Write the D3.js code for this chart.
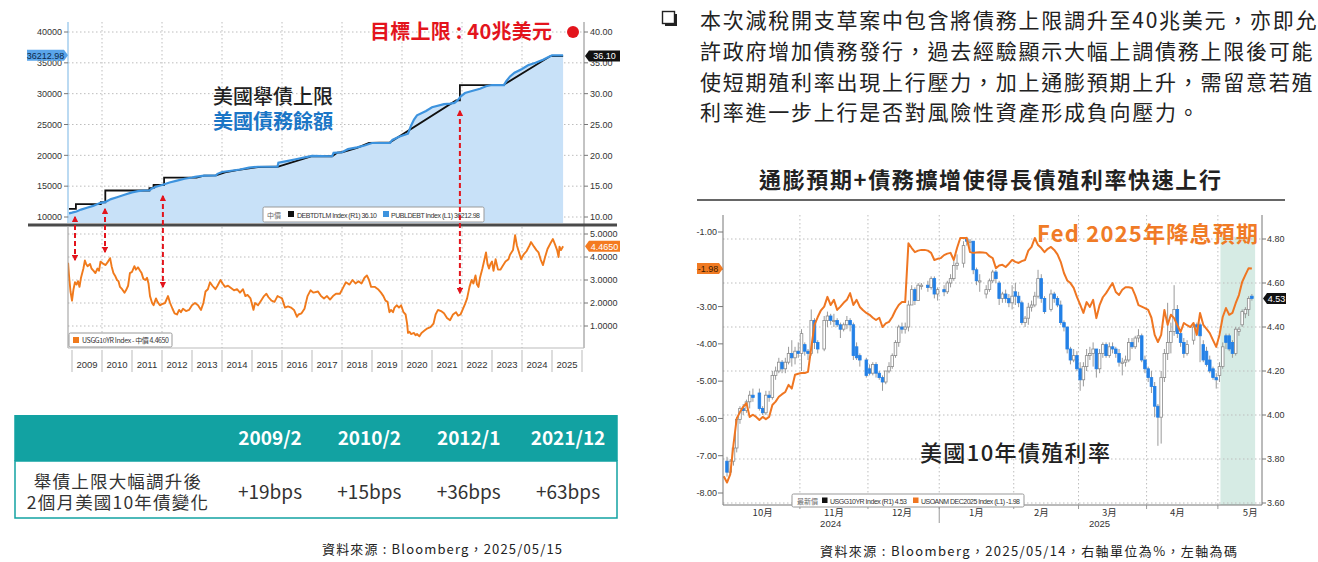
<!DOCTYPE html>
<html><head><meta charset="utf-8">
<script src="https://cdn.jsdelivr.net/npm/d3@7"></script>
<style>
html,body{margin:0;padding:0;background:#fff;}
svg{display:block;font-family:"Noto Sans CJK TC","Noto Sans",sans-serif;}
.bb{font-family:"Liberation Sans",Arial,sans-serif;}
</style></head><body>
<svg id="c" width="1318" height="562"></svg>
<script>
// ================= DATA =================
// ---- left chart: US debt ceiling / public debt / 10Y yield ----
const yearLabels = [2009,2010,2011,2012,2013,2014,2015,2016,2017,2018,2019,2020,2021,2022,2023,2024,2025];
const gridYears = [2010,2012,2014,2016,2018,2020,2022,2024];
const debtTicks = [10000,15000,20000,25000,30000,35000,40000];      // left axis (USD bn)
const ceilTicks = [10,15,20,25,30,35,40];                            // right axis (USD tn)
const yieldTicks = [1,2,3,4,5];                                      // lower panel (%)
const lastDebt = 36212.98, lastCeil = 36.10, lastYield = 4.4650, targetCeil = 40;

// debt ceiling, [year, USD tn]
const debtCeiling = [[2008.9,11.315],[2009.13,11.315],[2009.13,12.104],[2009.96,12.104],[2009.96,12.394],[2010.11,12.394],[2010.11,14.294],[2011.58,14.294],[2011.58,14.694],[2011.72,14.694],[2011.72,15.194],[2012.07,15.194],[2012.07,16.394],[2013.15,16.394],[2013.4,16.7],[2013.8,16.75],[2014.1,17.25],[2014.5,17.6],[2015.2,18.11],[2015.85,18.15],[2017.0,19.85],[2017.67,19.85],[2017.85,20.45],[2018.0,20.5],[2018.5,21.2],[2018.9,22.0],[2019.6,22.1],[2021.8,28.9],[2021.93,28.9],[2021.93,31.381],[2023.37,31.381],[2024.95,36.1],[2025.37,36.1]];
// public debt outstanding, [year, USD bn]
const publicDebt = [[2008.9,10600],[2009.0,10700],[2009.15,10900],[2009.3,11200],[2009.5,11500],[2009.7,11800],[2009.95,12300],[2010.1,12400],[2010.3,12900],[2010.5,13200],[2010.75,13600],[2011.0,14000],[2011.2,14200],[2011.4,14300],[2011.58,14300],[2011.65,14600],[2011.8,14900],[2012.0,15200],[2012.25,15600],[2012.5,15900],[2012.75,16200],[2013.0,16400],[2013.1,16500],[2013.4,16700],[2013.8,16750],[2013.85,17000],[2014.0,17300],[2014.3,17500],[2014.6,17700],[2014.9,18000],[2015.2,18150],[2015.85,18150],[2015.88,18800],[2016.2,19100],[2016.5,19400],[2016.8,19700],[2017.0,19900],[2017.67,19850],[2017.72,20400],[2018.0,20500],[2018.2,21000],[2018.5,21300],[2018.75,21600],[2019.0,22000],[2019.6,22000],[2019.68,22500],[2019.9,23000],[2020.2,23500],[2020.3,24800],[2020.4,25800],[2020.5,26500],[2020.8,27200],[2021.0,27800],[2021.4,28300],[2021.6,28400],[2021.75,28500],[2021.85,28900],[2021.97,29600],[2022.1,30100],[2022.3,30400],[2022.6,30800],[2022.8,31200],[2023.0,31400],[2023.4,31400],[2023.47,32000],[2023.6,32800],[2023.75,33400],[2024.0,34000],[2024.2,34600],[2024.45,35000],[2024.7,35500],[2024.9,36000],[2025.0,36200],[2025.37,36213]];
// US 10Y yield, [year, %]
const ust10yHist = [[2008.87,3.75],[2008.9,3.2],[2008.95,2.5],[2009.0,2.1],[2009.05,2.6],[2009.1,2.9],[2009.15,2.8],[2009.2,2.95],[2009.25,2.7],[2009.3,3.1],[2009.38,3.5],[2009.43,3.85],[2009.47,3.7],[2009.52,3.6],[2009.6,3.7],[2009.65,3.5],[2009.72,3.4],[2009.78,3.3],[2009.85,3.5],[2009.9,3.4],[2009.95,3.8],[2010.0,3.75],[2010.05,3.7],[2010.12,3.65],[2010.2,3.8],[2010.27,3.95],[2010.32,3.6],[2010.38,3.3],[2010.45,3.15],[2010.5,3.0],[2010.55,2.95],[2010.6,2.7],[2010.67,2.6],[2010.75,2.45],[2010.8,2.55],[2010.87,2.75],[2010.93,3.3],[2011.0,3.35],[2011.08,3.6],[2011.13,3.45],[2011.2,3.55],[2011.27,3.4],[2011.32,3.3],[2011.38,3.05],[2011.45,3.0],[2011.5,3.1],[2011.55,2.85],[2011.6,2.3],[2011.67,2.0],[2011.72,1.9],[2011.8,2.2],[2011.85,2.05],[2011.93,1.9],[2012.0,1.95],[2012.1,2.0],[2012.2,2.3],[2012.27,2.0],[2012.35,1.75],[2012.42,1.55],[2012.5,1.5],[2012.57,1.7],[2012.63,1.6],[2012.7,1.75],[2012.8,1.65],[2012.9,1.7],[2013.0,1.9],[2013.1,2.0],[2013.2,1.9],[2013.3,1.7],[2013.38,2.0],[2013.45,2.5],[2013.53,2.6],[2013.6,2.9],[2013.68,2.75],[2013.78,2.6],[2013.85,2.75],[2013.95,3.0],[2014.02,2.85],[2014.1,2.7],[2014.2,2.75],[2014.3,2.65],[2014.4,2.55],[2014.5,2.6],[2014.6,2.45],[2014.7,2.6],[2014.78,2.3],[2014.85,2.35],[2014.95,2.2],[2015.05,1.7],[2015.1,2.0],[2015.2,1.9],[2015.3,2.1],[2015.4,2.3],[2015.48,2.4],[2015.55,2.25],[2015.65,2.1],[2015.75,2.05],[2015.85,2.3],[2015.93,2.25],[2016.0,2.2],[2016.1,1.8],[2016.2,1.85],[2016.3,1.8],[2016.4,1.7],[2016.5,1.4],[2016.55,1.5],[2016.65,1.55],[2016.75,1.75],[2016.85,2.3],[2016.95,2.55],[2017.05,2.45],[2017.2,2.5],[2017.3,2.3],[2017.4,2.2],[2017.5,2.3],[2017.6,2.15],[2017.7,2.3],[2017.8,2.4],[2017.93,2.4],[2018.05,2.7],[2018.13,2.9],[2018.25,2.8],[2018.35,3.0],[2018.45,2.85],[2018.55,2.95],[2018.65,2.85],[2018.75,3.1],[2018.83,3.2],[2018.9,3.0],[2018.97,2.7],[2019.1,2.7],[2019.2,2.6],[2019.3,2.45],[2019.38,2.3],[2019.45,2.1],[2019.52,2.05],[2019.58,1.6],[2019.63,1.7],[2019.7,1.6],[2019.75,1.8],[2019.83,1.9],[2019.9,1.8],[2019.97,1.9],[2020.05,1.6],[2020.12,1.5],[2020.17,1.1],[2020.2,0.7],[2020.25,0.75],[2020.3,0.65],[2020.4,0.7],[2020.45,0.6],[2020.5,0.65],[2020.58,0.55],[2020.65,0.7],[2020.75,0.8],[2020.85,0.9],[2020.95,0.95],[2021.05,1.1],[2021.12,1.5],[2021.2,1.7],[2021.3,1.65],[2021.4,1.55],[2021.5,1.35],[2021.6,1.25],[2021.7,1.5],[2021.8,1.6],[2021.87,1.45],[2021.95,1.5],[2022.0,1.65],[2022.05,1.8],[2022.1,1.95],[2022.17,2.2],[2022.25,2.7],[2022.32,3.0],[2022.38,2.85],[2022.45,3.2],[2022.5,2.8],[2022.55,2.7],[2022.6,3.1],[2022.68,3.5],[2022.75,3.9],[2022.8,4.2],[2022.85,3.7],[2022.9,3.5],[2022.95,3.7],[2023.0,3.8],[2023.05,3.4],[2023.12,3.9],[2023.2,3.45],[2023.28,3.45],[2023.35,3.6],[2023.45,3.8],[2023.55,3.9],[2023.6,4.1],[2023.7,4.3],[2023.77,4.95],[2023.83,4.5],[2023.9,4.2],[2023.97,3.9],[2024.05,4.1],[2024.15,4.25],[2024.25,4.5],[2024.3,4.65],[2024.4,4.45],[2024.48,4.3],[2024.55,4.2],[2024.62,3.9],[2024.7,3.65],[2024.77,4.0],[2024.85,4.35],[2024.95,4.6],[2025.03,4.78],[2025.1,4.55],[2025.17,4.3],[2025.22,4.0],[2025.25,4.45],[2025.3,4.3],[2025.37,4.47]];
// red arrows: year, top tip (USD tn), bottom tip (%)
const arrowYears = [2009.1, 2010.1, 2012.03, 2021.93];
const arrowTop = [10.0, 11.3, 13.4, 27.2];
const arrowBot = [3.87, 4.22, 2.7, 2.43];

// ---- table ----
const tableHeads = ["2009/2","2010/2","2012/1","2021/12"];
const tableVals = ["+19bps","+15bps","+36bps","+63bps"];
const tableRowLabel = ["舉債上限大幅調升後","2個月美國10年債變化"];

// ---- right text ----
const paraLines = ["本次減稅開支草案中包含將債務上限調升至40兆美元，亦即允","許政府增加債務發行，過去經驗顯示大幅上調債務上限後可能","使短期殖利率出現上行壓力，加上通膨預期上升，需留意若殖","利率進一步上行是否對風險性資產形成負向壓力。"];

// ---- right chart (x = weekday index from 2024-10-01) ----
const monthLabels = ["10月","11月","12月","1月","2月","3月","4月","5月"];
const monthLabelIdx = [11,33,54,77,97,118,139,161.5];
const monthStartIdx = [22.5,43.5,65.5,88.5,108.5,129.5,151.5];
const yearTickLabels = ["2024","2025"];
const yearTickIdx = [32,115];
const yearBoundIdx = 65.5;
const cutTicks = [-1,-2,-3,-4,-5,-6,-7,-8];
const ustTicks = [3.6,3.8,4.0,4.2,4.4,4.6,4.8];
const shadeIdx = [152.3,163];
const lastUst = 4.53, lastCuts = -1.98;
// US 10Y daily candles [idx, open, high, low, close]
const ust10y = [
[0,3.79,3.81,3.72,3.74],[1,3.74,3.80,3.73,3.79],[2,3.79,3.86,3.77,3.85],[3,3.85,3.99,3.83,3.98],[4,3.98,4.04,3.96,4.03],[5,4.03,4.05,4.00,4.02],[6,4.02,4.07,4.01,4.06],[7,4.06,4.11,4.03,4.09],[8,4.09,4.12,4.06,4.08],
[10,4.10,4.12,4.02,4.03],[11,4.03,4.04,4.00,4.01],[12,4.01,4.11,4.00,4.09],[13,4.09,4.11,4.06,4.08],[14,4.08,4.20,4.07,4.18],[15,4.18,4.22,4.16,4.20],[16,4.20,4.26,4.19,4.24],[17,4.24,4.25,4.19,4.21],[18,4.21,4.26,4.19,4.24],[19,4.24,4.31,4.23,4.28],[20,4.28,4.34,4.22,4.26],[21,4.26,4.31,4.23,4.29],[22,4.29,4.33,4.26,4.28],
[23,4.28,4.39,4.20,4.37],[24,4.32,4.33,4.27,4.29],[25,4.29,4.30,4.25,4.28],[26,4.28,4.48,4.27,4.43],[27,4.43,4.44,4.30,4.33],[28,4.33,4.34,4.28,4.30],[30,4.30,4.45,4.29,4.43],[31,4.43,4.47,4.40,4.45],[32,4.45,4.46,4.41,4.43],[33,4.43,4.46,4.40,4.43],[34,4.43,4.44,4.40,4.41],[35,4.41,4.42,4.35,4.39],[36,4.39,4.42,4.38,4.41],[37,4.41,4.45,4.39,4.43],[38,4.43,4.44,4.38,4.41],[39,4.41,4.42,4.25,4.27],[40,4.31,4.33,4.25,4.26],[41,4.27,4.28,4.22,4.25],[43,4.25,4.26,4.17,4.18],
[44,4.21,4.23,4.18,4.19],[45,4.19,4.24,4.18,4.23],[46,4.23,4.24,4.17,4.19],[47,4.19,4.20,4.16,4.17],[48,4.17,4.18,4.11,4.15],[49,4.15,4.20,4.14,4.20],[50,4.20,4.24,4.19,4.22],[51,4.22,4.28,4.21,4.27],[52,4.27,4.34,4.26,4.33],[53,4.33,4.41,4.31,4.40],[54,4.40,4.42,4.37,4.39],[55,4.39,4.42,4.37,4.40],[56,4.40,4.52,4.38,4.50],[57,4.50,4.59,4.50,4.57],[58,4.57,4.58,4.50,4.52],[59,4.52,4.60,4.52,4.59],[60,4.59,4.60,4.57,4.59],[62,4.59,4.61,4.56,4.58],[63,4.58,4.63,4.57,4.62],[64,4.62,4.63,4.53,4.55],[65,4.55,4.58,4.52,4.57],
[67,4.57,4.59,4.54,4.56],[68,4.56,4.61,4.55,4.60],[69,4.60,4.64,4.58,4.62],[70,4.62,4.70,4.61,4.68],[71,4.68,4.73,4.66,4.69],[73,4.69,4.79,4.67,4.77],[74,4.80,4.81,4.77,4.79],[75,4.79,4.80,4.75,4.79],[76,4.79,4.79,4.64,4.66],[77,4.66,4.67,4.59,4.61],[78,4.61,4.64,4.56,4.61],[80,4.55,4.59,4.53,4.57],[81,4.57,4.62,4.56,4.61],[82,4.61,4.66,4.60,4.65],[83,4.65,4.66,4.60,4.62],[84,4.60,4.61,4.50,4.53],[85,4.53,4.56,4.51,4.55],[86,4.55,4.57,4.51,4.53],[87,4.53,4.55,4.49,4.51],[88,4.51,4.59,4.48,4.54],
[89,4.56,4.60,4.50,4.54],[90,4.54,4.56,4.49,4.51],[91,4.51,4.52,4.41,4.42],[92,4.42,4.45,4.40,4.44],[93,4.44,4.51,4.41,4.49],[94,4.49,4.52,4.47,4.50],[95,4.50,4.56,4.49,4.54],[96,4.54,4.66,4.53,4.62],[97,4.62,4.64,4.51,4.53],[98,4.53,4.54,4.46,4.47],[100,4.48,4.57,4.47,4.55],[101,4.55,4.56,4.51,4.53],[102,4.53,4.54,4.49,4.50],[103,4.50,4.52,4.41,4.42],[104,4.42,4.43,4.38,4.40],[105,4.40,4.40,4.28,4.30],[106,4.30,4.31,4.23,4.25],[107,4.25,4.30,4.24,4.27],[108,4.27,4.29,4.20,4.21],
[109,4.21,4.24,4.11,4.16],[110,4.16,4.24,4.13,4.22],[111,4.22,4.30,4.20,4.27],[112,4.27,4.31,4.25,4.28],[113,4.28,4.33,4.22,4.30],[114,4.30,4.30,4.17,4.21],[115,4.21,4.30,4.19,4.28],[116,4.28,4.33,4.26,4.32],[117,4.32,4.33,4.26,4.27],[118,4.27,4.33,4.26,4.31],[119,4.31,4.33,4.28,4.30],[120,4.30,4.31,4.26,4.28],[121,4.28,4.30,4.22,4.24],[122,4.24,4.26,4.18,4.24],[123,4.24,4.27,4.22,4.25],[124,4.25,4.35,4.24,4.33],[125,4.33,4.35,4.30,4.31],[126,4.31,4.36,4.30,4.35],[127,4.35,4.39,4.33,4.36],[128,4.36,4.37,4.24,4.25],[129,4.25,4.27,4.19,4.21],
[130,4.21,4.22,4.15,4.17],[131,4.17,4.20,4.10,4.13],[132,4.13,4.15,3.99,4.04],[133,4.04,4.05,3.86,3.99],[134,3.99,4.20,3.87,4.17],[135,4.17,4.30,4.15,4.28],[136,4.28,4.51,4.25,4.33],[137,4.33,4.42,4.28,4.38],[138,4.38,4.59,4.36,4.48],[139,4.48,4.50,4.35,4.37],[140,4.37,4.39,4.31,4.33],[141,4.33,4.35,4.26,4.28],[142,4.28,4.34,4.27,4.32],[144,4.34,4.42,4.32,4.40],[145,4.41,4.42,4.37,4.40],[146,4.41,4.42,4.24,4.36],[147,4.32,4.34,4.24,4.25],[148,4.29,4.31,4.22,4.23],[149,4.25,4.27,4.19,4.20],[150,4.21,4.22,4.16,4.17],[151,4.17,4.19,4.12,4.16],
[152,4.18,4.24,4.15,4.22],[153,4.22,4.33,4.21,4.31],[154,4.36,4.37,4.30,4.33],[155,4.36,4.37,4.29,4.30],[156,4.33,4.34,4.26,4.28],[157,4.28,4.40,4.27,4.39],[158,4.38,4.40,4.36,4.39],[159,4.41,4.48,4.40,4.47],[160,4.46,4.49,4.44,4.48],[161,4.48,4.54,4.45,4.53],[162,4.54,4.55,4.52,4.53]
];
// Fed cuts priced for 2025 (USOANM DEC2025), daily from idx -1
const fedCutsStart = -1;
const fedCuts = [-7.55,-7.72,-7.5,-6.7,-6.0,-5.83,-5.69,-5.59,-5.96,-5.9,-5.96,-6.04,-5.96,-6.02,-5.96,-5.64,-5.55,-5.42,-5.35,-5.29,-5.1,-5.2,-4.83,-4.8,-4.78,-4.78,-4.75,-4.11,-3.49,-3.28,-3.1,-3.0,-2.74,-2.96,-2.82,-3.09,-3.0,-2.9,-2.82,-2.64,-2.96,-2.82,-3.01,-3.1,-3.17,-3.22,-3.3,-3.36,-3.3,-3.55,-3.45,-3.41,-3.28,-3.1,-2.96,-2.88,-2.88,-1.3,-1.43,-1.54,-1.5,-1.48,-1.48,-1.5,-1.56,-1.75,-1.72,-1.7,-1.62,-1.58,-1.56,-1.75,-1.43,-1.16,-1.16,-1.16,-1.54,-1.56,-1.55,-1.54,-1.55,-1.56,-1.65,-1.7,-1.97,-1.9,-1.88,-1.94,-1.85,-1.75,-1.8,-1.83,-1.78,-1.75,-1.5,-1.4,-1.16,-1.35,-1.43,-1.54,-1.45,-1.4,-1.48,-1.6,-1.8,-2.1,-2.3,-2.37,-2.5,-2.74,-2.95,-3.17,-2.88,-3.01,-2.82,-3.31,-2.96,-2.75,-2.64,-2.5,-2.37,-2.61,-2.69,-2.55,-2.48,-2.48,-2.5,-2.7,-2.96,-3.0,-3.04,-3.09,-3.3,-3.76,-3.95,-3.76,-3.09,-3.49,-3.22,-3.31,-3.5,-3.68,-3.44,-3.5,-3.55,-3.44,-3.76,-3.17,-3.49,-3.6,-3.71,-3.9,-4.08,-3.76,-3.28,-3.04,-3.22,-3.17,-2.91,-2.69,-2.34,-2.15,-1.97,-1.98];

// ================= DRAW =================
const svg = d3.select("#c");
svg.append("rect").attr("width",1318).attr("height",562).attr("fill","#fff");
const RED = "#e3141c", ORANGE = "#f07a1c", BLUE = "#3d93de", TEAL = "#12a2a2";

function tag(g, x, y, w, text, bg, fg, pointRight){
  const h = 11;
  const pts = pointRight
    ? [[x,y-h/2],[x+w-4,y-h/2],[x+w,y],[x+w-4,y+h/2],[x,y+h/2]]
    : [[x,y],[x+4,y-h/2],[x+w,y-h/2],[x+w,y+h/2],[x+4,y+h/2]];
  g.append("polygon").attr("points",pts.map(p=>p.join(",")).join(" ")).attr("fill",bg);
  g.append("text").attr("class","bb").attr("x", pointRight ? x+w/2-2 : x+w/2+2).attr("y",y+3.3)
    .attr("text-anchor","middle").attr("font-size",9).attr("fill",fg).text(text);
}

// ---------- LEFT CHART ----------
const xL = d3.scaleLinear().domain([2009,2026]).range([72,582]);
const yDebt = d3.scaleLinear().domain([10000,40000]).range([217,32]);
const yCeil = d3.scaleLinear().domain([10,40]).range([217,32]);
const yYld = d3.scaleLinear().domain([0,5]).range([349,234]);
const L = {l:68, r:584, t:22, tb:223, bt:227, bb:348};
const gL = svg.append("g");
const defs = svg.append("defs");
defs.append("clipPath").attr("id","clipT").append("rect").attr("x",L.l).attr("y",L.t).attr("width",L.r-L.l).attr("height",L.tb-L.t);
defs.append("clipPath").attr("id","clipB").append("rect").attr("x",L.l).attr("y",L.bt).attr("width",L.r-L.l).attr("height",L.bb-L.bt);

// grids
gL.selectAll(".hgT").data(debtTicks).join("line").attr("x1",L.l).attr("x2",L.r)
  .attr("y1",d=>yDebt(d)).attr("y2",d=>yDebt(d)).attr("stroke","#bdbdbd").attr("stroke-dasharray","1.5,2.5");
gL.selectAll(".hgB").data(yieldTicks).join("line").attr("x1",L.l).attr("x2",L.r)
  .attr("y1",d=>yYld(d)).attr("y2",d=>yYld(d)).attr("stroke","#bdbdbd").attr("stroke-dasharray","1.5,2.5");
gL.selectAll(".vgT").data(gridYears).join("line").attr("x1",d=>xL(d)).attr("x2",d=>xL(d))
  .attr("y1",L.t).attr("y2",L.tb).attr("stroke","#bdbdbd").attr("stroke-dasharray","1.5,2.5");
gL.selectAll(".vgB").data(gridYears).join("line").attr("x1",d=>xL(d)).attr("x2",d=>xL(d))
  .attr("y1",L.bt).attr("y2",L.bb).attr("stroke","#bdbdbd").attr("stroke-dasharray","1.5,2.5");

// debt area + lines
const gT = gL.append("g").attr("clip-path","url(#clipT)");
gT.append("path").datum(publicDebt)
  .attr("d", d3.area().x(d=>xL(d[0])).y0(L.tb).y1(d=>yDebt(d[1])))
  .attr("fill","#c8e1f8");
gT.append("path").datum(debtCeiling)
  .attr("d", d3.line().x(d=>xL(d[0])).y(d=>yCeil(d[1])))
  .attr("fill","none").attr("stroke","#111").attr("stroke-width",1.8);
gT.append("path").datum(publicDebt)
  .attr("d", d3.line().x(d=>xL(d[0])).y(d=>yDebt(d[1])))
  .attr("fill","none").attr("stroke",BLUE).attr("stroke-width",2.2);

// yield line
const gB = gL.append("g").attr("clip-path","url(#clipB)");
gB.append("path").datum(ust10yHist)
  .attr("d", d3.line().x(d=>xL(d[0])).y(d=>yYld(d[1])))
  .attr("fill","none").attr("stroke",ORANGE).attr("stroke-width",1.9).attr("stroke-linejoin","round");

// axes lines
gL.append("line").attr("x1",L.l).attr("x2",L.l).attr("y1",L.t).attr("y2",L.tb).attr("stroke","#8ec1ea").attr("stroke-width",1.2);
gL.append("line").attr("x1",L.l).attr("x2",L.l).attr("y1",L.bt).attr("y2",L.bb).attr("stroke","#999");
gL.append("line").attr("x1",L.r).attr("x2",L.r).attr("y1",L.t).attr("y2",L.bb).attr("stroke","#888");
gL.append("line").attr("x1",L.l).attr("x2",L.r).attr("y1",L.bb).attr("y2",L.bb).attr("stroke","#bbb");

// left ticks
gL.selectAll(".lt").data(debtTicks).join("text").attr("class","bb")
  .attr("x",62).attr("y",d=>yDebt(d)+3.2).attr("text-anchor","end").attr("font-size",9).attr("fill","#333").text(d=>d);
gL.selectAll(".ltm").data(debtTicks).join("line").attr("x1",64).attr("x2",68)
  .attr("y1",d=>yDebt(d)).attr("y2",d=>yDebt(d)).attr("stroke","#777");
// right ticks
gL.selectAll(".rt").data(ceilTicks).join("text").attr("class","bb")
  .attr("x",590).attr("y",d=>yCeil(d)+3.2).attr("font-size",9).attr("fill","#333").text(d=>d.toFixed(2));
gL.selectAll(".rtm").data(ceilTicks).join("line").attr("x1",584).attr("x2",588)
  .attr("y1",d=>yCeil(d)).attr("y2",d=>yCeil(d)).attr("stroke","#777");
gL.selectAll(".rt2").data(yieldTicks).join("text").attr("class","bb")
  .attr("x",590).attr("y",d=>yYld(d)+3.2).attr("font-size",9).attr("fill","#333").text(d=>d.toFixed(4));
gL.selectAll(".rtm2").data(yieldTicks).join("line").attr("x1",584).attr("x2",588)
  .attr("y1",d=>yYld(d)).attr("y2",d=>yYld(d)).attr("stroke","#777");

// year axis
const yrBounds = yearLabels.concat([2026]);
gL.selectAll(".ysep").data(yrBounds).join("line").attr("x1",d=>xL(d)).attr("x2",d=>xL(d))
  .attr("y1",350).attr("y2",372).attr("stroke","#bbb");
gL.selectAll(".ylab").data(yearLabels).join("text").attr("class","bb")
  .attr("x",d=>xL(d+0.5)).attr("y",368).attr("text-anchor","middle").attr("font-size",9.5).attr("fill","#333").text(d=>d);

// separator bar
gL.append("line").attr("x1",28).attr("x2",617).attr("y1",225).attr("y2",225).attr("stroke","#4a4a4a").attr("stroke-width",3);

// tags
tag(gL, 27, yDebt(lastDebt), 41, lastDebt.toFixed(2), "#5aa5ea", "#0d2a4a", true);
tag(gL, 585, yCeil(lastCeil), 35, lastCeil.toFixed(2), "#111", "#fff", false);
tag(gL, 585, yYld(lastYield), 35, lastYield.toFixed(4), "#f47b20", "#fff", false);

// legends
const lgT = gL.append("g");
lgT.append("rect").attr("x",263).attr("y",207).attr("width",221).attr("height",15).attr("fill","#fff").attr("stroke","#999").attr("rx",1.5);
lgT.append("text").attr("x",267).attr("y",217.5).attr("font-size",7).attr("fill","#666").text("中價");
lgT.append("rect").attr("x",288).attr("y",211).attr("width",6).attr("height",6).attr("fill","#111");
lgT.append("text").attr("class","bb").attr("x",297).attr("y",217.5).attr("font-size",7).attr("fill","#333").attr("textLength",80).text("DEBTDTLM Index  (R1) 36.10");
lgT.append("rect").attr("x",383).attr("y",211).attr("width",6).attr("height",6).attr("fill",BLUE);
lgT.append("text").attr("class","bb").attr("x",391).attr("y",217.5).attr("font-size",7).attr("fill","#333").attr("textLength",89).text("PUBLDEBT Index  (L1) 36212.98");

const lgB = gL.append("g");
lgB.append("rect").attr("x",69).attr("y",333).attr("width",103).attr("height",14).attr("fill","#fff").attr("stroke","#999").attr("rx",1.5);
lgB.append("rect").attr("x",73).attr("y",337).attr("width",6).attr("height",6).attr("fill",ORANGE);
lgB.append("text").attr("x",82).attr("y",343).attr("font-size",7).attr("fill","#333").attr("textLength",87).text("USGG10YR Index - 中價 4.4650");

// annotations
gL.append("text").attr("x",213).attr("y",104).attr("font-size",20).attr("font-weight",500).attr("fill","#222").text("美國舉債上限");
gL.append("text").attr("x",213).attr("y",129).attr("font-size",20).attr("font-weight",700).attr("fill","#1b76c6").text("美國債務餘額");
gL.append("text").attr("x",370).attr("y",39).attr("font-size",20).attr("font-weight",700).attr("fill",RED).attr("textLength",182).text("目標上限 : 40兆美元");
gL.append("circle").attr("cx",xL(2025.7)).attr("cy",yCeil(targetCeil)).attr("r",6).attr("fill",RED);

// red double arrows
const mk = defs.append("marker").attr("id","ah").attr("viewBox","0 0 10 10").attr("refX",8).attr("refY",5)
  .attr("markerWidth",3.2).attr("markerHeight",3.2).attr("orient","auto-start-reverse").attr("markerUnits","strokeWidth");
mk.append("path").attr("d","M0,0 L10,5 L0,10 z").attr("fill",RED);
gL.selectAll(".arr").data(arrowYears).join("line")
  .attr("x1",d=>xL(d)).attr("x2",d=>xL(d))
  .attr("y1",(d,i)=>yCeil(arrowTop[i])).attr("y2",(d,i)=>yYld(arrowBot[i]))
  .attr("stroke",RED).attr("stroke-width",2).attr("stroke-dasharray","5,3")
  .attr("marker-start","url(#ah)").attr("marker-end","url(#ah)");

// ---------- TABLE ----------
const colX = d3.scalePoint().domain(tableHeads).range([270,568]);
const gTab = svg.append("g");
gTab.append("rect").attr("x",15).attr("y",461).attr("width",602).attr("height",57).attr("fill","#fff").attr("stroke",TEAL).attr("stroke-width",1.5);
gTab.append("rect").attr("x",14.25).attr("y",415).attr("width",603.5).attr("height",46).attr("fill",TEAL);
gTab.selectAll(".th").data(tableHeads).join("text").attr("x",d=>colX(d)).attr("y",445)
  .attr("text-anchor","middle").attr("font-size",19).attr("font-weight",700).attr("fill","#fff").text(d=>d);
gTab.selectAll(".tv").data(tableVals).join("text").attr("x",(d,i)=>colX(tableHeads[i])).attr("y",499)
  .attr("text-anchor","middle").attr("font-size",19).attr("fill","#333").text(d=>d);
gTab.selectAll(".tl").data(tableRowLabel).join("text").attr("x",118).attr("y",(d,i)=>488+i*21)
  .attr("text-anchor","middle").attr("font-size",17.5).attr("letter-spacing","1.2px").attr("fill","#333").text(d=>d);
svg.append("text").attr("x",322).attr("y",554).attr("font-size",13).attr("fill","#222").attr("textLength",240).text("資料來源 : Bloomberg，2025/05/15");

// ---------- RIGHT TEXT ----------
const gP = svg.append("g");
gP.append("rect").attr("x",665).attr("y",14).attr("width",12).attr("height",12).attr("fill","#222");
gP.append("rect").attr("x",662.5).attr("y",11.5).attr("width",12).attr("height",12).attr("fill","#fff").attr("stroke","#222").attr("stroke-width",1.4);
gP.selectAll(".pl").data(paraLines).join("text").attr("x",700).attr("y",(d,i)=>28+i*30.8)
  .attr("font-size",21).attr("letter-spacing","1.75px").attr("fill","#222").text(d=>d);
svg.append("text").attr("x",990).attr("y",188).attr("text-anchor","middle").attr("font-size",22).attr("font-weight",700)
  .attr("fill","#222").attr("textLength",462).text("通膨預期+債務擴增使得長債殖利率快速上行");
svg.append("line").attr("x1",697).attr("x2",1285).attr("y1",200).attr("y2",200).attr("stroke","#333").attr("stroke-width",1.3);

// ---------- RIGHT CHART ----------
const R = {l:723, r:1262, t:215, b:505};
const xR = d3.scaleLinear().domain([0,162]).range([727, 727+162*3.24]);
const yCut = d3.scaleLinear().domain([-1,-8]).range([232,493]);
const yUst = d3.scaleLinear().domain([4.8,3.6]).range([239,503]);
const gR = svg.append("g");
gR.append("rect").attr("x",xR(shadeIdx[0])).attr("y",yUst(4.81)).attr("width",xR(shadeIdx[1])-xR(shadeIdx[0]))
  .attr("height",R.b-yUst(4.81)).attr("fill","#d6ebe4");
gR.selectAll(".hg").data(ustTicks).join("line").attr("x1",R.l).attr("x2",R.r)
  .attr("y1",d=>yUst(d)).attr("y2",d=>yUst(d)).attr("stroke","#bdbdbd").attr("stroke-dasharray","1.5,2.5");
gR.selectAll(".vg").data(monthStartIdx).join("line").attr("x1",d=>xR(d)).attr("x2",d=>xR(d))
  .attr("y1",R.t).attr("y2",R.b).attr("stroke","#bdbdbd").attr("stroke-dasharray","1.5,2.5");

// candles
const cg = gR.selectAll(".cd").data(ust10y).join("g");
cg.append("line").attr("x1",d=>xR(d[0])).attr("x2",d=>xR(d[0]))
  .attr("y1",d=>yUst(d[2])).attr("y2",d=>yUst(d[3])).attr("stroke","#9a9a9a").attr("stroke-width",1);
cg.append("rect").attr("x",d=>xR(d[0])-1.3).attr("width",2.6)
  .attr("y",d=>yUst(Math.max(d[1],d[4])))
  .attr("height",d=>Math.max(1.2, Math.abs(yUst(d[1])-yUst(d[4]))))
  .attr("fill",d=>d[4]<d[1] ? "#2380e6" : "#fff")
  .attr("stroke",d=>d[4]<d[1] ? "#2380e6" : "#8a8a8a").attr("stroke-width",0.8);

// Fed cuts line
gR.append("path").datum(fedCuts)
  .attr("d", d3.line().x((d,i)=>xR(fedCutsStart+i)).y(d=>yCut(d)))
  .attr("fill","none").attr("stroke","#ef7622").attr("stroke-width",2).attr("stroke-linejoin","round");

// axes
gR.append("line").attr("x1",R.l).attr("x2",R.l).attr("y1",R.t).attr("y2",R.b).attr("stroke","#777");
gR.append("line").attr("x1",R.r).attr("x2",R.r).attr("y1",R.t).attr("y2",R.b).attr("stroke","#777");
gR.append("line").attr("x1",R.l).attr("x2",R.r).attr("y1",R.b).attr("y2",R.b).attr("stroke","#777");
gR.selectAll(".lt").data(cutTicks).join("text").attr("class","bb").attr("x",717).attr("y",d=>yCut(d)+3.2)
  .attr("text-anchor","end").attr("font-size",9).attr("fill","#333").text(d=>d.toFixed(2));
gR.selectAll(".ltm").data(cutTicks).join("line").attr("x1",718).attr("x2",723)
  .attr("y1",d=>yCut(d)).attr("y2",d=>yCut(d)).attr("stroke","#777");
gR.selectAll(".rt").data(ustTicks).join("text").attr("class","bb").attr("x",1267).attr("y",d=>yUst(d)+3.2)
  .attr("font-size",9).attr("fill","#333").text(d=>d.toFixed(2));
gR.selectAll(".rtm").data(ustTicks).join("line").attr("x1",1262).attr("x2",1266)
  .attr("y1",d=>yUst(d)).attr("y2",d=>yUst(d)).attr("stroke","#777");
gR.selectAll(".mt").data(monthStartIdx).join("line").attr("x1",d=>xR(d)).attr("x2",d=>xR(d))
  .attr("y1",R.b).attr("y2",R.b+4).attr("stroke","#999");
gR.append("line").attr("x1",xR(yearBoundIdx)).attr("x2",xR(yearBoundIdx)).attr("y1",R.b).attr("y2",R.b+18).attr("stroke","#999");
gR.selectAll(".ml").data(monthLabels).join("text").attr("x",(d,i)=>xR(monthLabelIdx[i])).attr("y",516)
  .attr("text-anchor","middle").attr("font-size",9.5).attr("fill","#333").text(d=>d);
gR.selectAll(".yl").data(yearTickLabels).join("text").attr("class","bb").attr("x",(d,i)=>xR(yearTickIdx[i])).attr("y",527)
  .attr("text-anchor","middle").attr("font-size",9.5).attr("fill","#333").text(d=>d);

// tags
tag(gR, 697, yCut(lastCuts), 26, lastCuts.toFixed(2), "#f07a22", "#3a1a00", true);
tag(gR, 1263, yUst(lastUst), 23, lastUst.toFixed(2), "#111", "#fff", false);

// legend
const lgR = gR.append("g");
lgR.append("rect").attr("x",792).attr("y",494).attr("width",232).attr("height",13).attr("fill","#fff").attr("stroke","#999").attr("rx",1.5);
lgR.append("text").attr("x",797).attr("y",503.5).attr("font-size",7).attr("fill","#666").text("最新價");
lgR.append("rect").attr("x",822).attr("y",497.5).attr("width",5.5).attr("height",5.5).attr("fill","#111");
lgR.append("text").attr("class","bb").attr("x",830).attr("y",503.5).attr("font-size",7).attr("fill","#333").attr("textLength",77).text("USGG10YR Index  (R1) 4.53");
lgR.append("rect").attr("x",913).attr("y",497.5).attr("width",5.5).attr("height",5.5).attr("fill","#ef7622");
lgR.append("text").attr("class","bb").attr("x",921).attr("y",503.5).attr("font-size",7).attr("fill","#333").attr("textLength",99).text("USOANM DEC2025 Index  (L1) -1.98");

// annotations
gR.append("text").attr("x",1037).attr("y",242).attr("font-size",22).attr("font-weight",700).attr("fill","#f07b26")
  .attr("textLength",221).text("Fed 2025年降息預期");
gR.append("text").attr("x",920).attr("y",461).attr("font-size",22).attr("font-weight",500).attr("fill","#222")
  .attr("textLength",190).text("美國10年債殖利率");
svg.append("text").attr("x",820).attr("y",556).attr("font-size",13).attr("fill","#222").attr("textLength",417)
  .text("資料來源 : Bloomberg，2025/05/14，右軸單位為%，左軸為碼");
</script>
</body></html>
